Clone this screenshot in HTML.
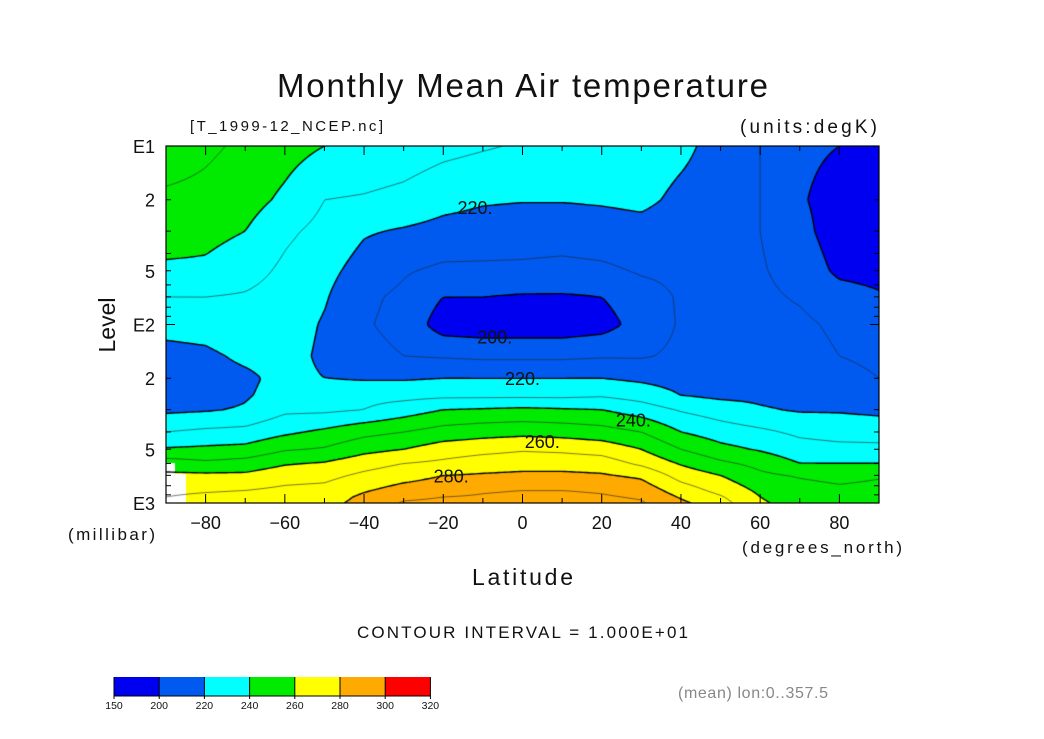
<!DOCTYPE html>
<html><head><meta charset="utf-8"><style>
html,body{margin:0;padding:0;background:#fff;}
#wrap{position:relative;width:1044px;height:739px;overflow:hidden;}
#fill{position:absolute;left:166px;top:146px;}
svg{position:absolute;left:0;top:0;}
text{font-family:"Liberation Sans",sans-serif;fill:#111;}
</style></head><body>
<div id="wrap">
<canvas id="fill" width="713" height="357"></canvas>
<svg id="ov" width="1044" height="739">
<text x="277" y="97" font-size="33" textLength="491" lengthAdjust="spacing">Monthly Mean Air temperature</text>
<text x="190" y="131" font-size="15" textLength="193" lengthAdjust="spacing">[T_1999-12_NCEP.nc]</text>
<text x="740" y="133" font-size="19" textLength="137" lengthAdjust="spacing">(units:degK)</text>
<text x="68" y="540" font-size="17" textLength="87" lengthAdjust="spacing">(millibar)</text>
<text x="742" y="553" font-size="17" textLength="160" lengthAdjust="spacing">(degrees_north)</text>
<text x="472" y="585" font-size="23" textLength="101" lengthAdjust="spacing">Latitude</text>
<text transform="translate(115,325) rotate(-90)" font-size="23" text-anchor="middle">Level</text>
<text x="357" y="638" font-size="17" textLength="331" lengthAdjust="spacing">CONTOUR INTERVAL = 1.000E+01</text>
<text x="678" y="698" font-size="16" textLength="150" lengthAdjust="spacing" style="fill:#888">(mean) lon:0..357.5</text>
<g id="axes"></g>
<g id="cbar"></g>
</svg>
</div>
<script>
// ---- data ----
const lats = [-90,-80,-70,-60,-50,-40,-30,-20,-10,0,10,20,30,40,50,60,70,80,90];
const levels = [10,20,30,50,70,100,150,200,250,300,400,500,600,700,850,925,1000];
const tempByLat = [
[256,248,245,238,230,223,217,216,216,218,230,241,255,262,268,270,272],
[252,247,243,238,230,224,218,216,216,219,232,242,252,262,269,272,274],
[248,244,240,234,229,228,222,218,219,221,233,243,254,262,270,273,275],
[244,238,232,228,226,225,224,223,224,228,238,249,259,266,272,275,277],
[240,230,227,223,221,219,218,220,226,228,242,251,261,267,273,275,277],
[238,229,221,216,212,211,213,219,227,230,247,257,266,272,279,282,283],
[236,227,219,211,208,207,210,219,227,235,250,260,270,276,284,288,291],
[233,223,217,208,200,195,209,220,228,240,254,265,272,280,286,290,292],
[231,221,216,208,200,194,208,220,228,241,256,267,275,281,289,291,293],
[229,220.5,215,208,199,194,208,220,228,242,257,269,276,282,290,292,294],
[227,220.5,215,207,199,194,208,220,228,241,256,268,276,282,290,292,294],
[226,221,216,208,200,196,209,220,229,240,254,266,275,281,289,291,293],
[225,222,217,211,206,204,209,218,226,235,250,260,268,278,286,289,291],
[222,218,215,212,211,211,212,216,220,229,240,250,259,266,275,279,282],
[217,216,215,214,214,214,214,215,218,225,235,243,252,260,267,271,274],
[210,210,210,211,212,213,214,216,218,221,232,239,247,252,258,260,261],
[202,201,203,206,209,212,214,215,217,219,228,234,240,249,254,256,257],
[200,196,195,198,204,208,210,213,216,219,226,233,240,247,252,254,256],
[193,192,194,197,201,205,208,210,215,218,225,233,240,249,253,255,257]
];
const binEdges = [150,200,220,240,260,280,300,320];
const binColors = [[0,0,240],[0,90,240],[0,255,255],[0,235,0],[255,255,0],[255,170,0],[255,0,0]];
const contourLevels = [190,200,210,220,230,240,250,260,270,280,290];
const yTickVals = [10,20,50,100,200,500,1000];
const yTickLabels = ['E1','2','5','E2','2','5','E3'];
const xTickVals = [-80,-60,-40,-20,0,20,40,60,80];
const labelTexts = ['220.','200.','220.','240.','260.','280.'];
const labelLat = [-12,-7,0,28,5,-18];
const labelLev = [22,117,200,340,450,700];

// ---- axes ----
const X0=166,X1=879,Y0=146,Y1=503;
function xs(lat){return X0+(lat+90)/180*(X1-X0);}
function ys(p){return Y0+(Math.log10(p)-1)/2*(Y1-Y0);}

// ---- fill ----
const rowY = levels.map(ys);
function val(px,py){
  const lat=-90+(px-X0)/(X1-X0)*180;
  let fi=(lat+90)/10; let i=Math.min(Math.max(Math.floor(fi),0),17); const tx=fi-i;
  let k=0; while(k<levels.length-2 && rowY[k+1]<py) k++;
  let ty=(py-rowY[k])/(rowY[k+1]-rowY[k]); ty=Math.max(0,Math.min(1,ty));
  const a=tempByLat[i][k],b=tempByLat[i+1][k],c=tempByLat[i][k+1],d=tempByLat[i+1][k+1];
  return (a*(1-tx)+b*tx)*(1-ty)+(c*(1-tx)+d*tx)*ty;
}
const cv=document.getElementById('fill'),ctx=cv.getContext('2d');
const W=cv.width,H=cv.height,img=ctx.createImageData(W,H);
for(let y=0;y<H;y++)for(let x=0;x<W;x++){
  const v=val(X0+x+0.5,Y0+y+0.5);let b=0;
  while(b<binColors.length-1 && v>=binEdges[b+1]) b++;
  const c=binColors[b],o=(y*W+x)*4;
  img.data[o]=c[0];img.data[o+1]=c[1];img.data[o+2]=c[2];img.data[o+3]=255;
}
ctx.putImageData(img,0,0);
// missing data (below ground) mask
ctx.fillStyle='#fff';
ctx.fillRect(0,317,9,40);ctx.fillRect(9,328,11,29);

// ---- contour lines (marching squares) ----
const S=3,nx=Math.ceil(W/S)+1,ny=Math.ceil(H/S)+1,G=[];
for(let j=0;j<ny;j++){G[j]=[];for(let i=0;i<nx;i++)G[j][i]=val(X0+Math.min(i*S,W),Y0+Math.min(j*S,H));}
contourLevels.forEach(L=>{
  ctx.beginPath();
  ctx.lineWidth=(L%20===0)?1.4:0.6;ctx.strokeStyle=(L%20===0)?'#000':'#222';
  for(let j=0;j<ny-1;j++)for(let i=0;i<nx-1;i++){
    const x0=Math.min(i*S,W),x1=Math.min((i+1)*S,W),y0=Math.min(j*S,H),y1=Math.min((j+1)*S,H);
    const v=[G[j][i],G[j][i+1],G[j+1][i+1],G[j+1][i]];
    const P=[[x0,y0],[x1,y0],[x1,y1],[x0,y1]];const pts=[];
    for(let e=0;e<4;e++){const a=v[e],b=v[(e+1)%4];
      if((a<L)!==(b<L)){const t=(L-a)/(b-a);const p=P[e],q=P[(e+1)%4];pts.push([p[0]+(q[0]-p[0])*t,p[1]+(q[1]-p[1])*t]);}}
    for(let m=0;m+1<pts.length;m+=2){ctx.moveTo(pts[m][0],pts[m][1]);ctx.lineTo(pts[m+1][0],pts[m+1][1]);}
  }
  ctx.stroke();
});

// ---- axes, ticks, labels ----
const NS='http://www.w3.org/2000/svg',ax=document.getElementById('axes');
function mk(tag,attrs,parent){const e=document.createElementNS(NS,tag);for(const k in attrs)e.setAttribute(k,attrs[k]);(parent||ax).appendChild(e);return e;}
const frame=mk('rect',{x:X0,y:Y0,width:X1-X0,height:Y1-Y0,fill:'none',stroke:'#000','stroke-width':1.2});


for(let d=1;d<=3;d++)for(let m=1;m<10;m++){
  if(d===3&&m>1)break;
  const p=m*Math.pow(10,d),y=ys(p),len=(m===1)?9:5;
  const t1=mk('line',{x1:X0,x2:X0+len,y1:y,y2:y,stroke:'#000','stroke-width':1});
  
  
  const t2=mk('line',{x1:X1-len,x2:X1,y1:y,y2:y,stroke:'#000','stroke-width':1});
  
  
}
yTickVals.forEach((p,i)=>{
  const t=mk('text',{x:155,y:ys(p)+7,'font-size':18,'text-anchor':'end'});t.textContent=yTickLabels[i];
  
  
});
for(let lat=-80;lat<=80;lat+=10){
  const x=xs(lat),len=(lat%20===0)?9:5;
  const a=mk('line',{x1:x,x2:x,y1:Y1,y2:Y1-len,stroke:'#000','stroke-width':1});
  
  
  const b=mk('line',{x1:x,x2:x,y1:Y0,y2:Y0+len,stroke:'#000','stroke-width':1});
  
  
}
xTickVals.forEach(v=>{
  const t=mk('text',{x:xs(v),y:529,'font-size':18,'text-anchor':'middle'});t.textContent=(v<0?'\u2212'+(-v):v);
  
  
});
labelTexts.forEach((s,i)=>{
  const t=mk('text',{x:xs(labelLat[i]),y:ys(labelLev[i])+7,'font-size':18,'text-anchor':'middle'});t.textContent=s;
  
  
});

// ---- colorbar ----
const cb=document.getElementById('cbar');
binColors.forEach((c,i)=>{
  const r=mk('rect',{x:114+i*45.2,y:677,width:45.2,height:19,fill:'rgb('+c.join(',')+')'},cb);
  
  
});
binEdges.forEach((v,i)=>{
  const x=114+i*45.2;
  const l=mk('line',{x1:x,x2:x,y1:677,y2:699,stroke:'#000','stroke-width':1},cb);
  
  
  const t=mk('text',{x:x,y:709,'font-size':10.5,'text-anchor':'middle'},cb);t.textContent=v;
  
  
});
const bl=mk('line',{x1:114,x2:430,y1:696,y2:696,stroke:'#000','stroke-width':1},cb);


</script>
</body></html>
